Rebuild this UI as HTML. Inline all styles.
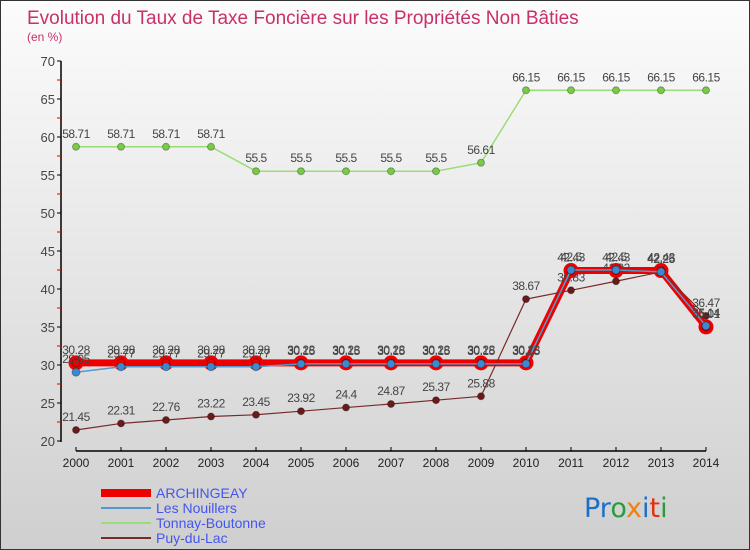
<!DOCTYPE html>
<html><head><meta charset="utf-8"><style>
body{margin:0}
#c{width:750px;height:550px;position:relative;font-family:"Liberation Sans",sans-serif;background:linear-gradient(#fcfcfc,#cfcfcf);box-sizing:border-box;border:1px solid #333;overflow:hidden}
</style></head><body>
<div id="c">
<svg width="750" height="550" id="s">
<text x="26" y="23" font-size="19" fill="#c8306a">Evolution du Taux de Taxe Foncière sur les Propriétés Non Bâties</text>
<text x="26" y="40" font-size="12" fill="#c8306a">(en %)</text>
<g id="ax"></g><g id="series"></g><g id="leg"></g>
<text x="583" y="516" font-size="27" font-family="DejaVu Sans"><tspan fill="#1a6fc8">Pr</tspan><tspan fill="#2a9a3a">o</tspan><tspan fill="#f08010">x</tspan><tspan fill="#1a6fc8">i</tspan><tspan fill="#e03010">t</tspan><tspan fill="#2a9a3a">i</tspan></text>
</svg></div>
<script>
const years=[2000,2001,2002,2003,2004,2005,2006,2007,2008,2009,2010,2011,2012,2013,2014];
const archingeay=[30.28,30.28,30.28,30.28,30.28,30.28,30.28,30.28,30.28,30.28,30.28,42.43,42.43,42.43,35.01];
const nouillers=[29.05,29.77,29.77,29.77,29.77,30.15,30.15,30.15,30.15,30.15,30.15,42.5,42.5,42.25,35.14];
const tonnay=[58.71,58.71,58.71,58.71,55.5,55.5,55.5,55.5,55.5,56.61,66.15,66.15,66.15,66.15,66.15];
const puy=[21.45,22.31,22.76,23.22,23.45,23.92,24.4,24.87,25.37,25.88,38.67,39.83,41.02,42.25,36.47];
const yTicks=[20,25,30,35,40,45,50,55,60,65,70];
const NS="http://www.w3.org/2000/svg";
const X=i=>75+i*45, Y=v=>440-(v-20)*7.6;
function el(t,a,p){const e=document.createElementNS(NS,t);for(const k in a)e.setAttribute(k,a[k]);p.appendChild(e);return e;}
const ax=document.getElementById('ax');
let l=el('line',{x1:60,y1:60,x2:60,y2:441,stroke:'#000','stroke-width':1.5},ax);

yTicks.forEach(v=>{el('line',{x1:56,x2:60,y1:Y(v),y2:Y(v),stroke:'#000'},ax);
 if(v<70)el('line',{x1:56,x2:60,y1:Y(v+2.5),y2:Y(v+2.5),stroke:'#d00'},ax);
 const t=el('text',{x:54,y:Y(v)+5,'font-size':13,fill:'#444','text-anchor':'end'},ax);t.textContent=v;
 });
l=el('line',{x1:75,y1:450,x2:705,y2:450,stroke:'#000','stroke-width':1.5},ax);

years.forEach((y,i)=>{el('line',{x1:X(i),x2:X(i),y1:446,y2:450,stroke:'#000'},ax);
 const t=el('text',{x:X(i),y:466,'font-size':12,fill:'#222','text-anchor':'middle'},ax);t.textContent=y;
 });
const sg=document.getElementById('series');
function series(name,data,col,w,r,fill,halo){
 const g=el('g',{},sg);
 const pts=data.map((v,i)=>X(i)+','+Y(v)).join(' ');
 el('polyline',{points:pts,fill:'none',stroke:col,'stroke-width':w,'stroke-linejoin':'round'},g);
 data.forEach((v,i)=>{
  if(halo){el('circle',{cx:X(i),cy:Y(v),r:7.5,fill:'#e00'},g);}
  const c=el('circle',{cx:X(i),cy:Y(v),r:r,fill:fill,stroke:'rgba(0,0,0,0.3)'},g);
  
  const t=el('text',{x:X(i),y:Y(v)-9,'font-size':12,fill:'#444','text-anchor':'middle','letter-spacing':'-0.5'},g);t.textContent=v;
  });
}
series('tonnay-boutonne',tonnay,'#99dd77',1.5,3.5,'#77cc44',false);
series('archingeay',archingeay,'#e00',7,4,'#e00',true);
series('puy-du-lac',puy,'#7a2a2a',1.2,3.5,'#6a1a1a',false);
series('les-nouillers',nouillers,'#5599cc',1.5,4,'#3a8ad0',false);
const lg=document.getElementById('leg');
[['ARCHINGEAY','#e00',8],['Les Nouillers','#5599cc',2],['Tonnay-Boutonne','#99dd77',2],['Puy-du-Lac','#7a2a2a',2]].forEach((d,i)=>{
 const y=492+i*15;const g=el('g',{},lg);
 el('line',{x1:100,x2:150,y1:y,y2:y,stroke:d[1],'stroke-width':d[2]},g);
 const t=el('text',{x:155,y:y+5,'font-size':14,fill:'#4455ee'},g);t.textContent=d[0];});
</script>
</body></html>
